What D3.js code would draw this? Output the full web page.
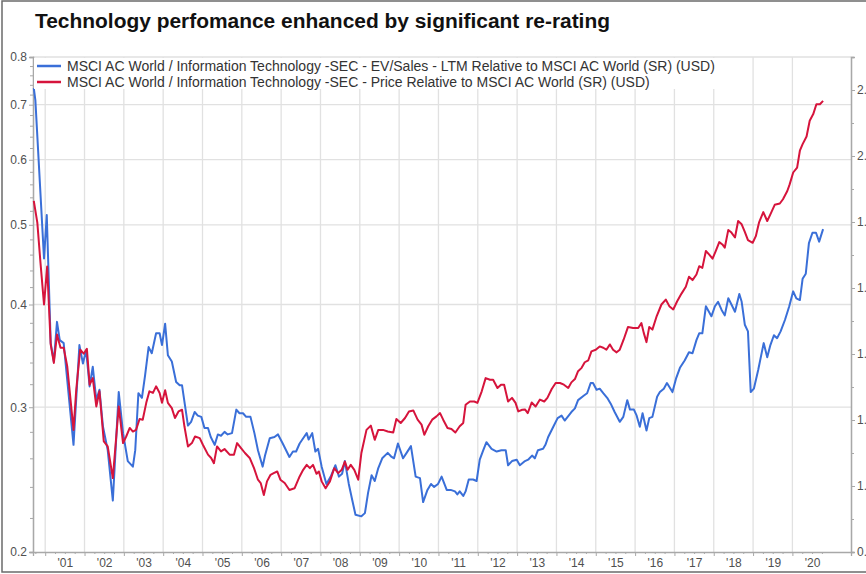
<!DOCTYPE html>
<html>
<head>
<meta charset="utf-8">
<script src="https://cdn.jsdelivr.net/npm/d3@7/dist/d3.min.js"></script>
<style>
  html, body { margin: 0; padding: 0; background: #fff; }
  svg { display: block; }
  text { font-family: Arial, "Liberation Sans", sans-serif; }
</style>
</head>
<body>
<svg id="chart" width="866" height="574"></svg>
<script>
// ---------------- DATA ----------------
const titleText = "Technology perfomance enhanced by significant re-rating";
const seriesNames = [
  "MSCI AC World / Information Technology -SEC - EV/Sales - LTM Relative to MSCI AC World (SR) (USD)",
  "MSCI AC World / Information Technology -SEC - Price Relative to MSCI AC World (SR) (USD)"
];
const seriesColors = ["#3a6fd8", "#d6143c"];

// Blue: EV/Sales relative (left, log axis). Dates in decimal years.
const blueDates = [2000.71,2000.75,2000.97,2001.04,2001.14,2001.22,2001.30,2001.37,2001.47,2001.72,2001.87,2001.96,
2002.04,2002.13,2002.21,2002.30,2002.38,2002.47,2002.59,2002.72,2002.87,2002.98,2003.10,2003.23,2003.29,2003.37,
2003.46,2003.54,2003.63,2003.71,2003.82,2003.91,2003.97,2004.05,2004.12,2004.22,2004.33,2004.42,2004.48,2004.63,
2004.71,2004.80,2004.88,2004.97,2005.05,2005.14,2005.21,2005.31,2005.39,2005.47,2005.56,2005.64,2005.75,2005.86,
2005.94,2006.03,2006.11,2006.22,2006.32,2006.41,2006.53,2006.59,2006.71,2006.83,2006.92,2007.04,2007.21,2007.30,
2007.38,2007.47,2007.56,2007.65,2007.70,2007.79,2007.87,2007.94,2008.03,2008.15,2008.26,2008.38,2008.47,2008.55,
2008.62,2008.72,2008.81,2008.89,2009.04,2009.13,2009.21,2009.30,2009.38,2009.47,2009.57,2009.71,2009.81,2009.87,
2009.97,2010.10,2010.19,2010.30,2010.42,2010.53,2010.61,2010.72,2010.81,2010.89,2010.99,2011.08,2011.21,2011.31,
2011.42,2011.48,2011.54,2011.63,2011.69,2011.77,2011.88,2011.97,2012.05,2012.14,2012.22,2012.35,2012.48,2012.60,
2012.71,2012.77,2012.87,2012.99,2013.07,2013.20,2013.28,2013.38,2013.45,2013.53,2013.66,2013.72,2013.79,2013.92,
2014.03,2014.13,2014.21,2014.38,2014.47,2014.55,2014.70,2014.78,2014.87,2014.93,2015.02,2015.10,2015.19,2015.29,
2015.38,2015.48,2015.61,2015.70,2015.80,2015.87,2015.97,2016.04,2016.12,2016.19,2016.29,2016.36,2016.44,2016.56,
2016.63,2016.73,2016.81,2016.95,2017.04,2017.14,2017.26,2017.37,2017.46,2017.56,2017.63,2017.71,2017.80,2017.94,
2018.03,2018.11,2018.20,2018.28,2018.37,2018.45,2018.54,2018.65,2018.71,2018.79,2018.87,2018.94,2019.02,2019.13,
2019.27,2019.36,2019.44,2019.53,2019.61,2019.70,2019.81,2019.92,2020.02,2020.10,2020.19,2020.26,2020.34,2020.42,
2020.51,2020.60,2020.68,2020.78];
const blueValues = [0.733,0.709,0.455,0.514,0.359,0.341,0.381,0.362,0.359,0.270,0.357,0.339,
0.352,0.318,0.336,0.306,0.315,0.284,0.266,0.231,0.313,0.279,0.258,0.254,0.266,0.312,
0.308,0.328,0.355,0.349,0.369,0.369,0.357,0.379,0.347,0.341,0.322,0.319,0.319,0.285,
0.288,0.296,0.293,0.292,0.283,0.283,0.276,0.270,0.278,0.277,0.280,0.278,0.279,0.298,
0.295,0.295,0.292,0.292,0.279,0.266,0.254,0.262,0.275,0.276,0.278,0.271,0.261,0.265,
0.265,0.271,0.275,0.279,0.274,0.279,0.265,0.267,0.254,0.242,0.247,0.255,0.247,0.249,
0.258,0.242,0.231,0.222,0.221,0.223,0.236,0.248,0.244,0.253,0.260,0.264,0.261,0.260,
0.271,0.260,0.264,0.269,0.247,0.246,0.230,0.238,0.242,0.240,0.242,0.247,0.238,0.238,
0.237,0.235,0.237,0.234,0.237,0.245,0.245,0.244,0.259,0.266,0.272,0.267,0.265,0.266,
0.266,0.255,0.258,0.259,0.255,0.258,0.259,0.262,0.260,0.266,0.267,0.270,0.276,0.284,
0.291,0.293,0.289,0.296,0.299,0.306,0.310,0.312,0.321,0.321,0.315,0.316,0.312,0.308,
0.303,0.296,0.288,0.292,0.306,0.298,0.298,0.293,0.284,0.295,0.281,0.291,0.292,0.309,
0.313,0.316,0.321,0.313,0.325,0.335,0.342,0.350,0.349,0.362,0.369,0.369,0.398,0.387,
0.398,0.403,0.394,0.388,0.407,0.400,0.392,0.412,0.403,0.378,0.371,0.313,0.316,0.333,
0.359,0.345,0.357,0.367,0.364,0.371,0.383,0.398,0.415,0.407,0.405,0.430,0.436,0.475,
0.489,0.489,0.477,0.494];

// Red: Price relative (right, linear axis)
const redDates = [2000.71,2000.80,2000.88,2000.97,2001.05,2001.14,2001.22,2001.30,2001.39,2001.47,2001.56,2001.72,
2001.79,2001.89,2001.98,2002.06,2002.13,2002.21,2002.30,2002.38,2002.49,2002.59,2002.72,2002.87,2002.98,2003.06,
2003.15,2003.23,2003.31,2003.40,2003.48,2003.57,2003.65,2003.74,2003.82,2003.91,2003.97,2004.05,2004.12,2004.22,
2004.30,2004.39,2004.48,2004.54,2004.63,2004.73,2004.81,2004.93,2005.01,2005.14,2005.22,2005.29,2005.37,2005.47,
2005.56,2005.69,2005.80,2005.88,2005.98,2006.08,2006.20,2006.31,2006.41,2006.48,2006.56,2006.64,2006.73,2006.81,
2006.90,2006.98,2007.09,2007.21,2007.34,2007.47,2007.56,2007.65,2007.73,2007.81,2007.90,2007.96,2008.03,2008.13,
2008.24,2008.35,2008.45,2008.54,2008.62,2008.69,2008.77,2008.86,2008.96,2009.04,2009.17,2009.28,2009.38,2009.47,
2009.59,2009.71,2009.85,2009.93,2010.04,2010.15,2010.25,2010.36,2010.47,2010.57,2010.64,2010.74,2010.84,2010.95,
2011.04,2011.12,2011.23,2011.33,2011.43,2011.54,2011.63,2011.69,2011.80,2011.91,2011.99,2012.10,2012.20,2012.31,
2012.39,2012.50,2012.59,2012.67,2012.77,2012.87,2012.96,2013.03,2013.13,2013.20,2013.27,2013.37,2013.47,2013.58,
2013.69,2013.77,2013.88,2013.98,2014.09,2014.19,2014.30,2014.38,2014.47,2014.55,2014.64,2014.72,2014.81,2014.89,
2015.00,2015.10,2015.19,2015.27,2015.36,2015.44,2015.53,2015.61,2015.71,2015.82,2015.95,2016.08,2016.16,2016.22,
2016.29,2016.36,2016.44,2016.55,2016.67,2016.78,2016.87,2016.97,2017.07,2017.18,2017.29,2017.37,2017.46,2017.56,
2017.63,2017.71,2017.80,2017.88,2017.97,2018.05,2018.14,2018.22,2018.28,2018.37,2018.45,2018.54,2018.62,2018.71,
2018.79,2018.87,2018.99,2019.07,2019.15,2019.26,2019.36,2019.44,2019.55,2019.68,2019.76,2019.87,2019.93,2020.02,
2020.12,2020.19,2020.26,2020.36,2020.44,2020.53,2020.61,2020.70,2020.78];
const redValues = [1.864,1.798,1.677,1.550,1.665,1.429,1.373,1.459,1.419,1.419,1.363,1.170,
1.292,1.413,1.401,1.416,1.307,1.327,1.241,1.287,1.135,1.120,1.024,1.241,1.130,1.150,
1.176,1.165,1.170,1.203,1.201,1.252,1.287,1.282,1.302,1.282,1.252,1.290,1.252,1.236,
1.206,1.226,1.231,1.181,1.120,1.130,1.150,1.145,1.125,1.095,1.085,1.069,1.120,1.105,
1.112,1.095,1.095,1.130,1.115,1.100,1.085,1.054,1.019,1.009,0.973,1.014,1.034,1.039,
1.044,1.019,1.009,0.988,0.993,1.029,1.049,1.064,1.054,1.064,1.037,1.044,1.014,0.993,
1.014,1.054,1.039,1.049,1.074,1.049,1.064,1.049,1.019,1.100,1.170,1.183,1.140,1.170,
1.170,1.165,1.162,1.203,1.191,1.206,1.226,1.229,1.201,1.186,1.155,1.181,1.201,1.211,
1.221,1.201,1.176,1.173,1.162,1.181,1.191,1.246,1.256,1.256,1.252,1.287,1.327,1.322,
1.322,1.297,1.307,1.307,1.256,1.267,1.252,1.226,1.231,1.232,1.221,1.253,1.241,1.262,
1.256,1.267,1.294,1.312,1.312,1.307,1.297,1.314,1.324,1.348,1.358,1.375,1.381,1.408,
1.413,1.423,1.419,1.413,1.429,1.413,1.405,1.413,1.444,1.482,1.479,1.479,1.494,1.464,
1.436,1.482,1.474,1.515,1.550,1.565,1.545,1.535,1.560,1.583,1.604,1.634,1.624,1.641,
1.666,1.661,1.712,1.702,1.689,1.712,1.739,1.732,1.722,1.776,1.768,1.753,1.803,1.793,
1.770,1.745,1.737,1.757,1.798,1.830,1.803,1.823,1.852,1.856,1.869,1.894,1.914,1.950,
1.965,2.016,2.036,2.059,2.107,2.127,2.157,2.157,2.167];

const years = d3.range(2001, 2021);               // 2001..2020
const yearLabels = ["'01","'02","'03","'04","'05","'06","'07","'08","'09","'10",
                    "'11","'12","'13","'14","'15","'16","'17","'18","'19","'20"];
const leftTicks = [0.2, 0.3, 0.4, 0.5, 0.6, 0.7, 0.8];
const leftMinor = [0.22,0.24,0.26,0.28,0.32,0.34,0.36,0.38,0.42,0.44,0.46,0.48,
                   0.52,0.54,0.56,0.58,0.62,0.64,0.66,0.68,0.72,0.74,0.76,0.78];
const rightTicks = [0.8, 1.0, 1.2, 1.4, 1.6, 1.8, 2.0, 2.2];
const rightMinor = [0.9, 1.1, 1.3, 1.5, 1.7, 1.9, 2.1];

// ---------------- LAYOUT ----------------
const svg = d3.select("#chart");
const L = 33, R = 851, T = 57, B = 552;

const x = d3.scaleLinear().domain([2000.69, 2021.49]).range([L, R]);
const yL = d3.scaleLog().domain([0.2, 0.8]).range([B, T]);
const yR = d3.scaleLinear().domain([0.8, 2.3]).range([B, T]);

// outer frame
svg.append("path")
  .attr("d", `M 868 1 L 2 1 L 2 572 L 868 572`)
  .attr("fill", "none").attr("stroke", "#6b6b6b").attr("stroke-width", 1.5);

// title
svg.append("text")
  .attr("x", 35).attr("y", 28)
  .attr("font-size", 20).attr("font-weight", "bold").attr("fill", "#111")
  .attr("textLength", 575).attr("lengthAdjust", "spacingAndGlyphs")
  .text(titleText);

// grid
const grid = svg.append("g");
grid.selectAll("line.v").data(years).join("line")
  .attr("x1", d => x(d)).attr("x2", d => x(d))
  .attr("y1", T).attr("y2", B)
  .attr("stroke", "#e1e1e1").attr("stroke-width", 1.3);
grid.selectAll("line.h").data(leftTicks.slice(1)).join("line")
  .attr("x1", L).attr("x2", R)
  .attr("y1", d => yL(d)).attr("y2", d => yL(d))
  .attr("stroke", "#e1e1e1").attr("stroke-width", 1.3);

// axes
function styleAxis(g) {
  g.select(".domain").attr("stroke", "#a8a8a8").attr("stroke-width", 1.3);
  g.selectAll(".tick line").attr("stroke", "#a8a8a8");
  g.selectAll(".tick text").attr("fill", "#505050").attr("font-size", 12)
    .attr("font-family", "Arial, 'Liberation Sans', sans-serif");
}

const gL = svg.append("g").attr("transform", `translate(${L},0)`)
  .call(d3.axisLeft(yL).tickValues(leftTicks).tickFormat(d3.format(".1f")).tickSize(4).tickPadding(2));
styleAxis(gL);
const gLm = svg.append("g").attr("transform", `translate(${L},0)`)
  .call(d3.axisLeft(yL).tickValues(leftMinor).tickFormat("").tickSize(3));
styleAxis(gLm);

const gR = svg.append("g").attr("transform", `translate(${R},0)`)
  .call(d3.axisRight(yR).tickValues(rightTicks).tickFormat(d3.format(".1f")).tickSize(4).tickPadding(2));
styleAxis(gR);
const gRm = svg.append("g").attr("transform", `translate(${R},0)`)
  .call(d3.axisRight(yR).tickValues(rightMinor).tickFormat("").tickSize(3));
styleAxis(gRm);

const gB = svg.append("g").attr("transform", `translate(0,${B})`)
  .call(d3.axisBottom(x).tickValues(years).tickFormat("").tickSize(4));
styleAxis(gB);
const quarters = [];
years.concat([2021]).forEach(yv => { [0.25, 0.5, 0.75].forEach(q => quarters.push(yv - 1 + q)); });
const gBm = svg.append("g").attr("transform", `translate(0,${B})`)
  .call(d3.axisBottom(x).tickValues(quarters.filter(q => q > 2000.69 && q < 2021.49)).tickFormat("").tickSize(2));
styleAxis(gBm);
gBm.select(".domain").remove();
const gBl = svg.append("g").attr("transform", `translate(0,${B})`)
  .call(d3.axisBottom(x).tickValues(years.map(yv => yv + 0.5)).tickFormat((d, i) => yearLabels[i]).tickSize(0).tickPadding(6));
styleAxis(gBl);
gBl.select(".domain").remove();

// lines
const blueData = blueDates.map((d, i) => [d, blueValues[i]]);
const redData = redDates.map((d, i) => [d, redValues[i]]);

svg.append("path").datum(blueData)
  .attr("fill", "none").attr("stroke", seriesColors[0]).attr("stroke-width", 2)
  .attr("stroke-linejoin", "round")
  .attr("d", d3.line().x(d => x(d[0])).y(d => yL(d[1])));
svg.append("path").datum(redData)
  .attr("fill", "none").attr("stroke", seriesColors[1]).attr("stroke-width", 2)
  .attr("stroke-linejoin", "round")
  .attr("d", d3.line().x(d => x(d[0])).y(d => yR(d[1])));

// legend
const leg = svg.append("g");
leg.append("rect").attr("x", L + 1).attr("y", T + 1).attr("width", 688).attr("height", 31).attr("fill", "#fff");
seriesNames.forEach((name, i) => {
  const cy = 66 + i * 16;
  leg.append("line").attr("x1", 37).attr("x2", 61).attr("y1", cy).attr("y2", cy)
    .attr("stroke", seriesColors[i]).attr("stroke-width", 2.5);
  leg.append("text").attr("x", 67).attr("y", cy + 5)
    .attr("font-size", 14).attr("fill", "#333").text(name);
});
</script>
</body>
</html>
